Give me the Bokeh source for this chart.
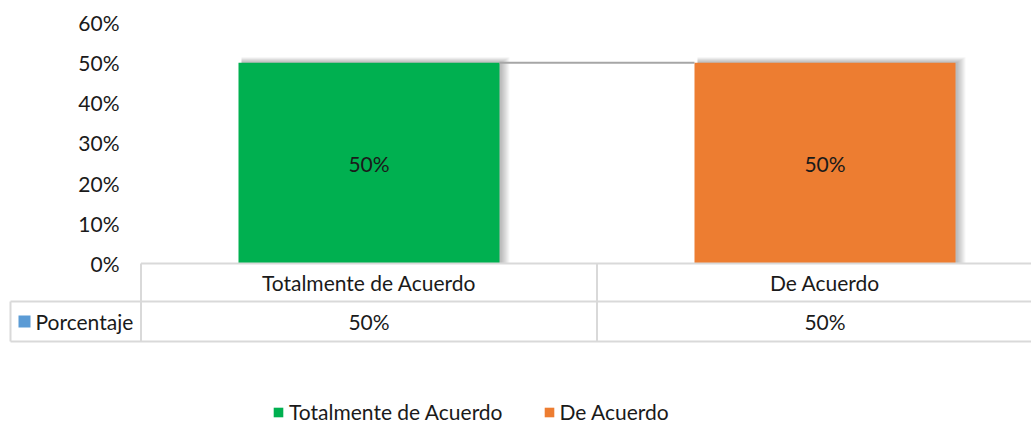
from bokeh.plotting import figure
from bokeh.models import Range1d, FixedTicker, NumeralTickFormatter, Legend, LegendItem
from bokeh.core.properties import value
from bokeh.embed import file_html
from bokeh.resources import INLINE

categories = ["Totalmente de Acuerdo", "De Acuerdo"]
values = [0.5, 0.5]
bar_colors = ["#00b050", "#ed7d31"]
value_labels = ["50%", "50%"]
series_name = "Porcentaje"
y_ticks = [0.0, 0.1, 0.2, 0.3, 0.4, 0.5, 0.6]

W, H = 1031, 425
PX0, PXU = 140.5, 456.0      # pixel of x=0, pixels per category
PY0, PYU = 263.0, 401.67     # pixel of y=0, pixels per unit

def dx(px):
    return (px - PX0) / PXU

def dy(py):
    return (PY0 - py) / PYU

FONT = "Lato"
TXT = "#1a1a1a"
GRID = "#d9d9d9"
FS = "21px"

p = figure(width=W, height=H, output_backend="svg", toolbar_location=None,
           x_range=Range1d(dx(0), dx(W)), y_range=Range1d(dy(H), dy(0)),
           min_border_left=0, min_border_right=0, min_border_top=0, min_border_bottom=0)
p.outline_line_color = None
p.xaxis.visible = False
p.xgrid.visible = False
p.ygrid.visible = False

ya = p.yaxis[0]
ya.fixed_location = dx(131)
ya.ticker = FixedTicker(ticks=y_ticks)
ya.formatter = NumeralTickFormatter(format="0%")
ya.axis_line_color = None
ya.major_tick_line_color = None
ya.minor_tick_line_color = None
ya.major_label_standoff = 6
ya.major_label_text_font = FONT
ya.major_label_text_font_size = FS
ya.major_label_text_color = TXT

xs = [i + 0.5 for i in range(len(categories))]
bw = 261.0 / PXU

# soft shadows
for k in range(1, 10):
    lefts = [x - bw / 2 + 3 / PXU for x in xs]
    rights = [x + bw / 2 + (1 + k) / PXU for x in xs]
    tops = [v + (k * 0.6) / PYU for v in values]
    bottoms = [0 for _ in values]
    p.quad(left=lefts, right=rights, top=tops, bottom=bottoms,
           fill_color="#000000", fill_alpha=0.03, line_color=None)

renderers = []
for i, c in enumerate(categories):
    r = p.vbar(x=[xs[i]], top=[values[i]], width=bw, bottom=0,
               fill_color=bar_colors[i], line_color=None)
    renderers.append(r)

# series line between bars
p.line(x=[xs[0] + bw / 2, xs[1] - bw / 2], y=[values[0], values[1]],
       line_color="#a6a6a6", line_width=2)

# labels in bars
p.text(x=xs, y=[v / 2 for v in values], text=value_labels,
       text_align="center", text_baseline="middle",
       text_font=value(FONT), text_font_size=FS, text_color=TXT)

# data table
xl = dx(10)
xr = 2.2
r1, r2, r3 = 0.0, dy(301), dy(341)
p.segment(x0=[0, xl, xl], y0=[r1, r2, r3], x1=[xr, xr, xr], y1=[r1, r2, r3],
          line_color=GRID, line_width=2)
p.segment(x0=[0, 1, xl], y0=[r1, r1, r2], x1=[0, 1, xl], y1=[r3, r3, r3],
          line_color=GRID, line_width=2)
p.text(x=xs, y=[(r1 + r2) / 2] * 2, text=categories,
       text_align="center", text_baseline="middle",
       text_font=value(FONT), text_font_size=FS, text_color=TXT)
p.text(x=xs, y=[(r2 + r3) / 2] * 2, text=value_labels,
       text_align="center", text_baseline="middle",
       text_font=value(FONT), text_font_size=FS, text_color=TXT)
p.scatter(x=[dx(24)], y=[(r2 + r3) / 2], marker="square", size=12,
          fill_color="#5b9bd5", line_color=None)
p.text(x=[dx(35)], y=[(r2 + r3) / 2], text=[series_name],
       text_align="left", text_baseline="middle",
       text_font=value(FONT), text_font_size=FS, text_color=TXT)

legend = Legend(items=[LegendItem(label=categories[i], renderers=[renderers[i]])
                       for i in range(len(categories))],
                orientation="horizontal", location=(272, 1),
                glyph_width=12, glyph_height=12, spacing=40, padding=2, margin=0,
                label_standoff=5,
                label_text_font=FONT, label_text_font_size=FS,
                label_text_color=TXT, border_line_color=None,
                background_fill_alpha=0)
p.add_layout(legend, "center")

open("out.html", "w").write(file_html(p, INLINE))
